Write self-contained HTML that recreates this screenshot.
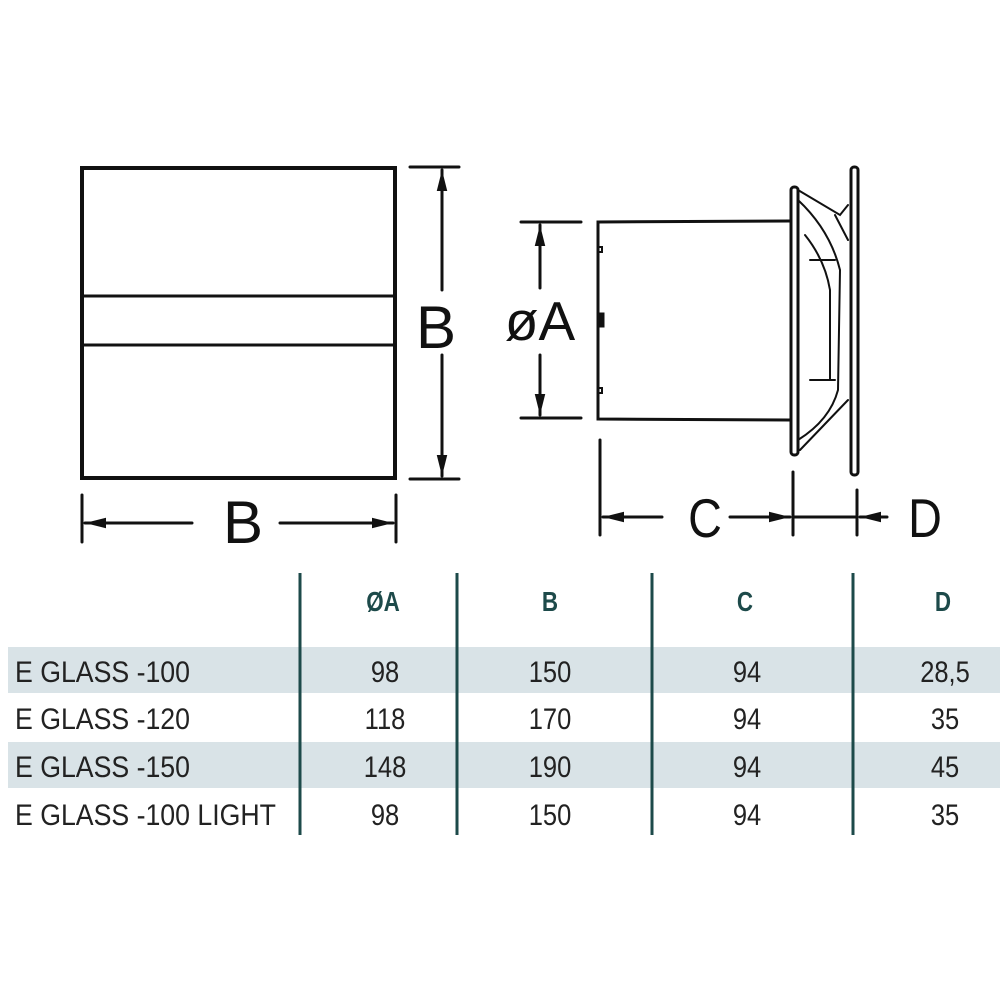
<!DOCTYPE html>
<html><head><style>body{margin:0;background:#fff}svg{display:block}</style></head><body>
<svg width="1000" height="1000" viewBox="0 0 1000 1000" xmlns="http://www.w3.org/2000/svg">
<defs><marker id="ar" viewBox="0 0 10 10" refX="10" refY="5" markerWidth="7" markerHeight="7" orient="auto-start-reverse"><path d="M0,2.5 L10,5 L0,7.5 z" fill="#111"/></marker></defs>
<g stroke="#111" fill="none" stroke-linecap="round">
<rect x="82" y="168" width="313" height="310" stroke-width="4"/>
<line x1="82" y1="296" x2="395" y2="296" stroke-width="3"/>
<line x1="82" y1="345" x2="395" y2="345" stroke-width="3"/>
<line x1="410" y1="167" x2="459" y2="167" stroke-width="3"/>
<line x1="410" y1="479" x2="459" y2="479" stroke-width="3"/>
<line x1="442" y1="170" x2="442" y2="290" stroke-width="3" marker-start="url(#ar)"/>
<line x1="442" y1="355" x2="442" y2="476" stroke-width="3" marker-end="url(#ar)"/>
<line x1="82" y1="495" x2="82" y2="542" stroke-width="3"/>
<line x1="396" y1="495" x2="396" y2="542" stroke-width="3"/>
<line x1="85" y1="523" x2="192" y2="523" stroke-width="3" marker-start="url(#ar)"/>
<line x1="280" y1="523" x2="393" y2="523" stroke-width="3" marker-end="url(#ar)"/>
<!-- right -->
<line x1="521" y1="222" x2="581" y2="222" stroke-width="3"/>
<line x1="521" y1="418" x2="581" y2="418" stroke-width="3"/>
<line x1="540" y1="225" x2="540" y2="288" stroke-width="3" marker-start="url(#ar)"/>
<line x1="540" y1="355" x2="540" y2="415" stroke-width="3" marker-end="url(#ar)"/>
<path d="M790,221 L598,222 L598,419 L790,420" stroke-width="3"/>
<path d="M598,247 L602,247 L602,252 L598,252 M598,388 L602,388 L602,393 L598,393" stroke-width="2"/>
<rect x="599" y="313" width="5" height="14" fill="#111" stroke-width="1"/>
<rect x="791" y="187" width="7" height="268" rx="3" stroke-width="3"/>
<rect x="851" y="167" width="7" height="308" rx="3" stroke-width="3"/>
<path d="M798,190 L840,215 L848,205 M798,200 Q830,230 840,270 L838,390 Q830,420 798,440 M805,235 Q825,260 830,290 L830,380 M810,260 L835,260 M810,380 L835,380 M835,215 L848,240 M800,450 L848,400" stroke-width="2"/>
<line x1="600" y1="440" x2="600" y2="535" stroke-width="3"/>
<line x1="793" y1="472" x2="793" y2="535" stroke-width="3"/>
<line x1="857" y1="490" x2="857" y2="535" stroke-width="3"/>
<line x1="603" y1="517" x2="662" y2="517" stroke-width="3" marker-start="url(#ar)"/>
<line x1="730" y1="517" x2="790" y2="517" stroke-width="3" marker-end="url(#ar)"/>
<line x1="793" y1="517" x2="857" y2="517" stroke-width="3"/>
<line x1="887" y1="517" x2="860" y2="517" stroke-width="3" marker-end="url(#ar)"/>
</g>
<g font-family="Liberation Sans, sans-serif" fill="#111" text-anchor="middle">
<text x="436" y="348" font-size="60">B</text>
<text x="243" y="543" font-size="60">B</text>
<text x="540" y="340" font-size="55">øA</text>
<text x="705" y="537" font-size="55" transform="translate(705 0) scale(0.85 1) translate(-705 0)">C</text>
<text x="925" y="537" font-size="55" transform="translate(925 0) scale(0.85 1) translate(-925 0)">D</text>
</g>
<!-- table -->
<rect x="8" y="647" width="992" height="46" fill="#d9e3e7"/>
<rect x="8" y="742" width="992" height="46" fill="#d9e3e7"/>
<g stroke="#1d4a4a" stroke-width="3">
<line x1="300" y1="573" x2="300" y2="835"/><line x1="457" y1="573" x2="457" y2="835"/>
<line x1="652" y1="573" x2="652" y2="835"/><line x1="853" y1="573" x2="853" y2="835"/>
</g>
<g font-family="Liberation Sans, sans-serif" font-weight="bold" font-size="28" fill="#1d4a4a" text-anchor="middle">
<text x="383" y="611" transform="translate(383 0) scale(0.8 1) translate(-383 0)">ØA</text>
<text x="550" y="611" transform="translate(550 0) scale(0.8 1) translate(-550 0)">B</text>
<text x="745" y="611" transform="translate(745 0) scale(0.8 1) translate(-745 0)">C</text>
<text x="943" y="611" transform="translate(943 0) scale(0.8 1) translate(-943 0)">D</text>
</g>
<g font-family="Liberation Sans, sans-serif" font-size="30" fill="#222">
<g transform="translate(15 0) scale(0.89 1)">
<text x="0" y="682">E GLASS -100</text>
<text x="0" y="729">E GLASS -120</text>
<text x="0" y="777">E GLASS -150</text>
<text x="0" y="825">E GLASS -100 LIGHT</text>
</g>
<g text-anchor="middle">
<g transform="translate(385 0) scale(0.85 1)"><text x="0" y="682">98</text><text x="0" y="729">118</text><text x="0" y="777">148</text><text x="0" y="825">98</text></g>
<g transform="translate(550 0) scale(0.85 1)"><text x="0" y="682">150</text><text x="0" y="729">170</text><text x="0" y="777">190</text><text x="0" y="825">150</text></g>
<g transform="translate(747 0) scale(0.85 1)"><text x="0" y="682">94</text><text x="0" y="729">94</text><text x="0" y="777">94</text><text x="0" y="825">94</text></g>
<g transform="translate(945 0) scale(0.85 1)"><text x="0" y="682">28,5</text><text x="0" y="729">35</text><text x="0" y="777">45</text><text x="0" y="825">35</text></g>
</g>
</g>
</svg>
</body></html>
